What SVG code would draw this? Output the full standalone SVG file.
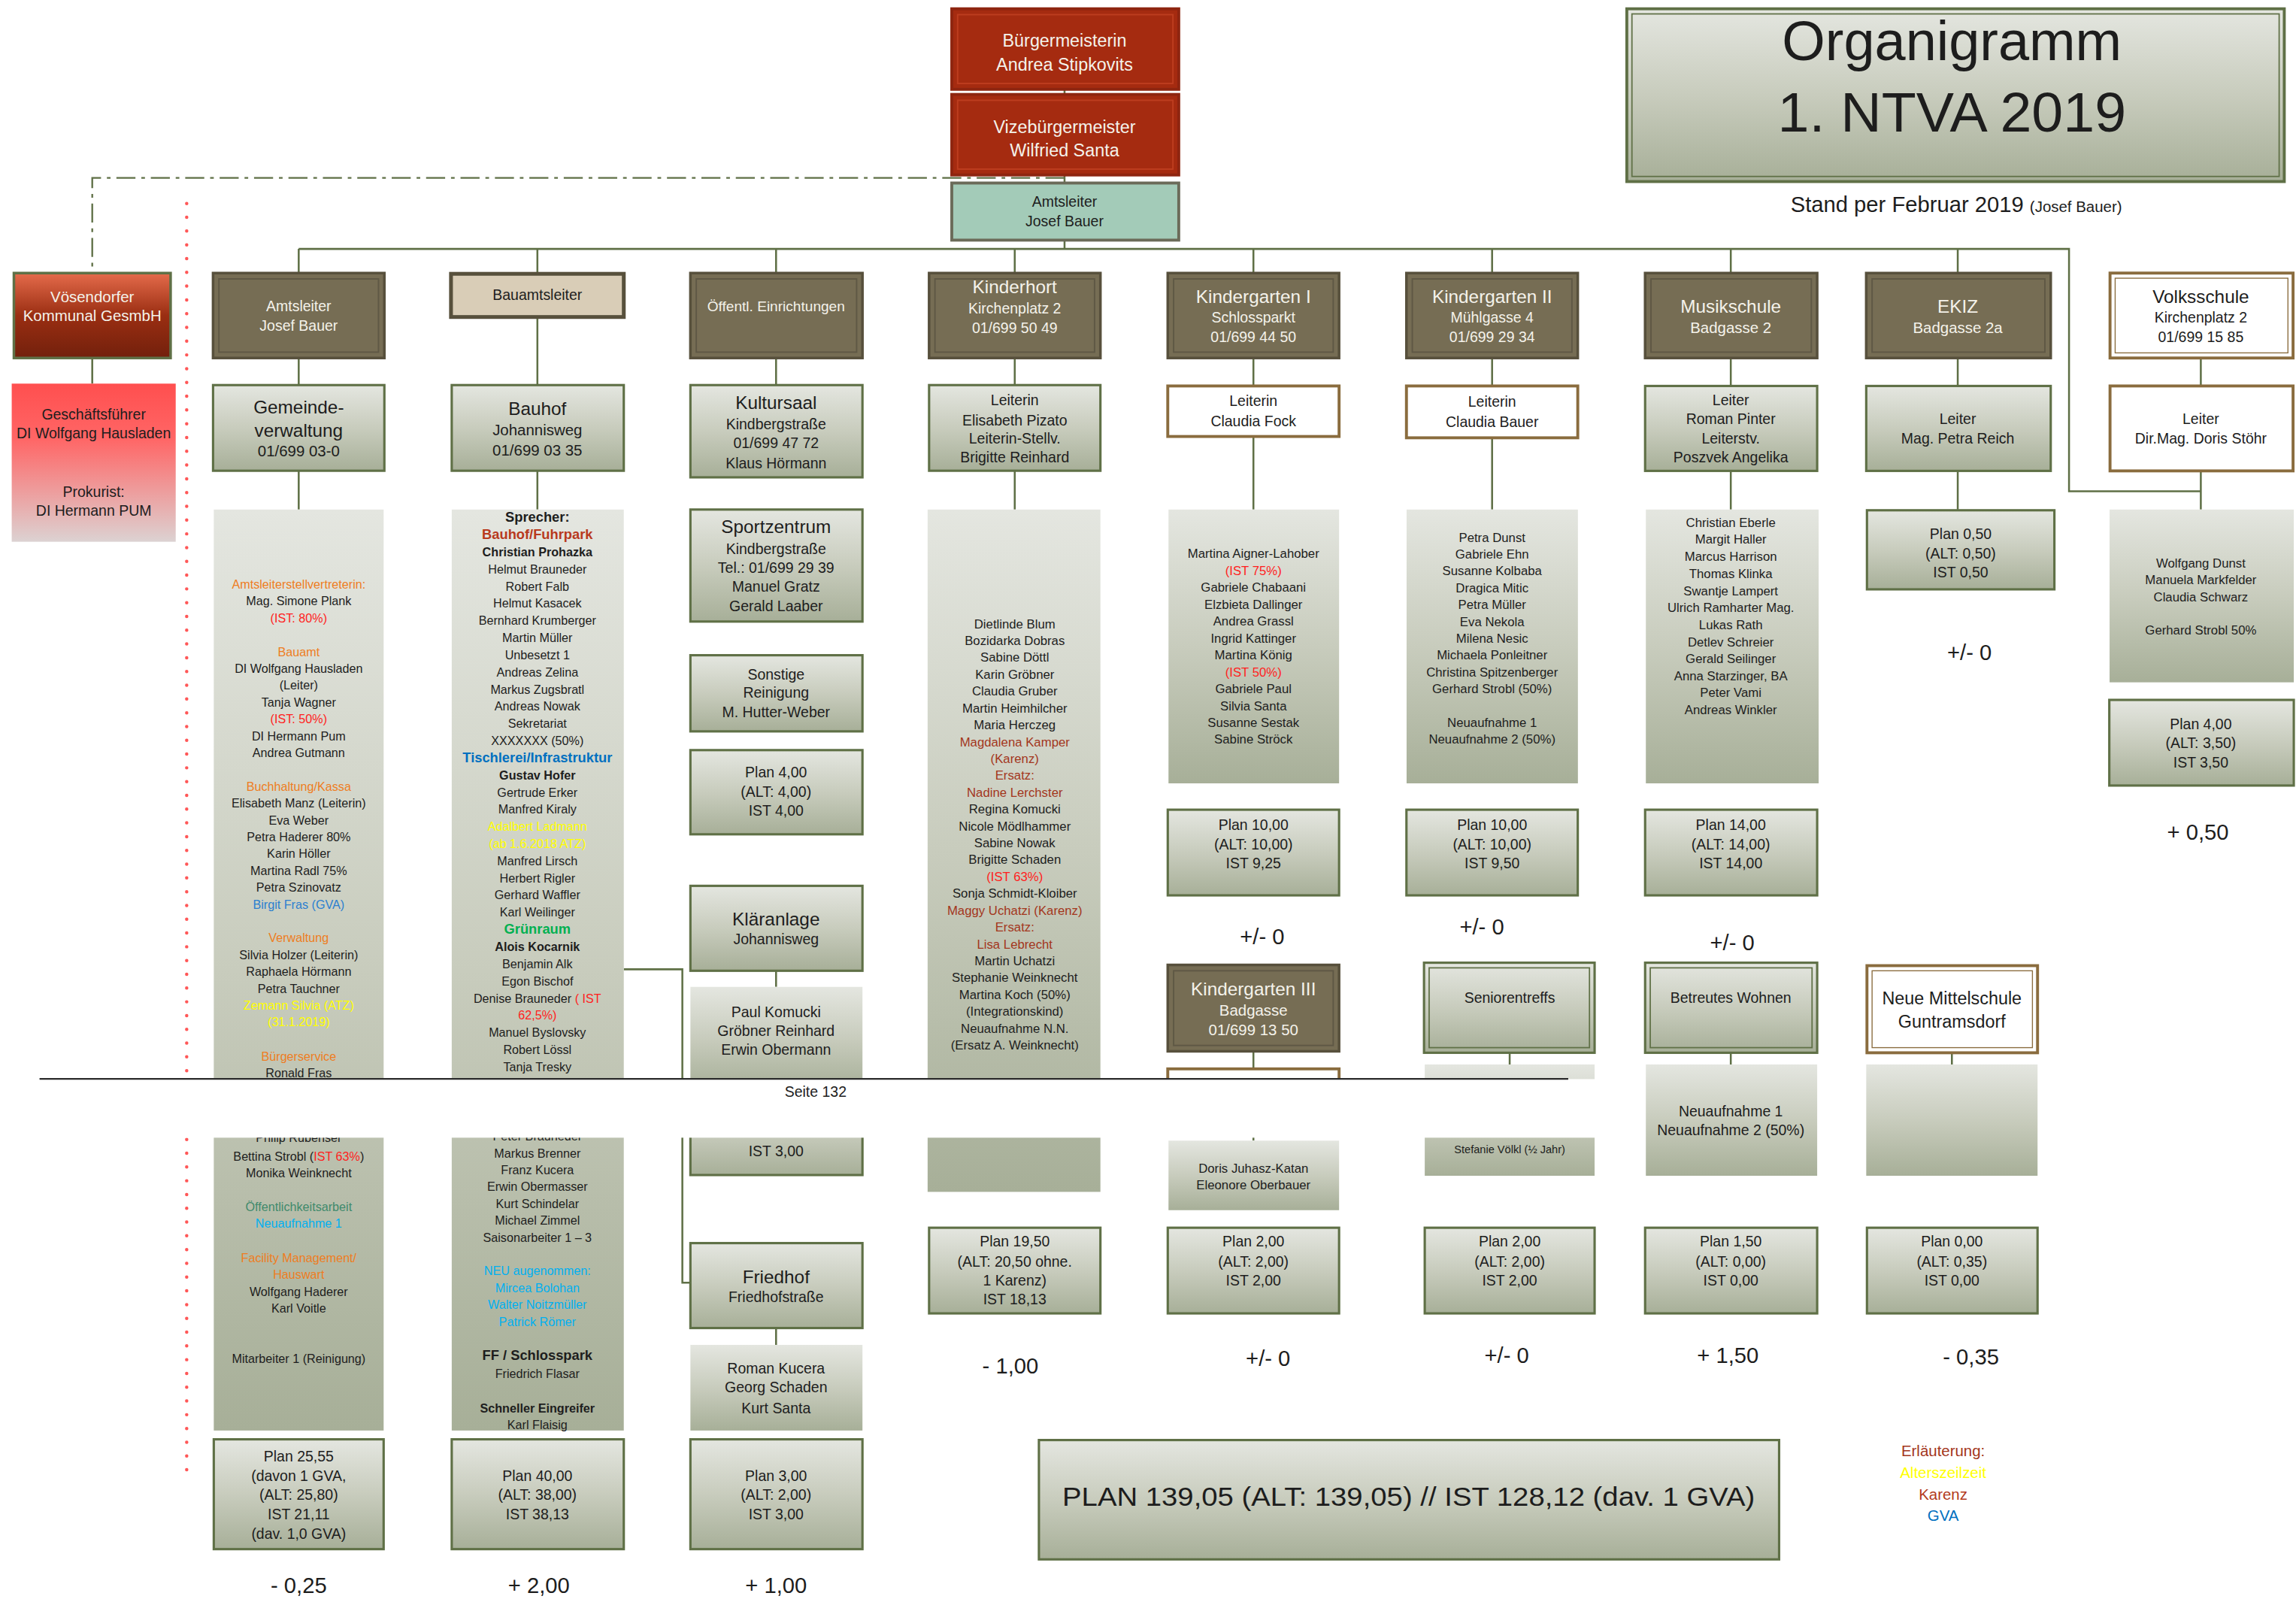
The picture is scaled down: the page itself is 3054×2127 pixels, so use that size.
<svg xmlns="http://www.w3.org/2000/svg" width="3054" height="2127" viewBox="0 0 3054 2127">
<defs>
<linearGradient id="gL" x1="0" y1="0" x2="0" y2="1"><stop offset="0" stop-color="#e4e6e0"/><stop offset="0.5" stop-color="#c8ccbd"/><stop offset="1" stop-color="#a7af98"/></linearGradient>
<linearGradient id="gV" x1="0" y1="0" x2="0" y2="1"><stop offset="0" stop-color="#e56b4b"/><stop offset="0.5" stop-color="#9a2e12"/><stop offset="1" stop-color="#72200c"/></linearGradient>
<linearGradient id="gG" x1="0" y1="0" x2="0" y2="1"><stop offset="0" stop-color="#ff4f4f"/><stop offset="0.35" stop-color="#f66"/><stop offset="1" stop-color="#dcd2d2"/></linearGradient>
<style>
.c{fill:none;stroke:#5f7046;stroke-width:1.3}
.dd{fill:none;stroke:#5f7046;stroke-width:1.2;stroke-dasharray:13 4 2.5 4}
.rdot{fill:none;stroke:#ff5757;stroke-width:2.3;stroke-linecap:round;stroke-dasharray:0 9.4}
.hdr{fill:#766d54;stroke:#57503c;stroke-width:1.8}
.hin{fill:none;stroke:#5f5845;stroke-width:1}
.lg{fill:url(#gL);stroke:#5f7046;stroke-width:1.6}
.lgi{fill:none;stroke:#5f7046;stroke-width:0.9}
.nb{fill:url(#gL)}
.wb{fill:#fff;stroke:#8a6c3e;stroke-width:2}
.wbi{fill:none;stroke:#8a6c3e;stroke-width:0.7}
.rb{fill:#a52b10;stroke:#8e2510;stroke-width:2}
.rbi{fill:none;stroke:#bd3d1f;stroke-width:1}
.t{font-family:"Liberation Sans",Arial,Helvetica,sans-serif;text-anchor:middle;fill:#1d1d1d}
.t.w{fill:#f4f2ea}
.s7{font-size:7.5px}
.s8{font-size:8.3px}
.s86{font-size:8.6px}
.s9{font-size:9.4px}
.s10{font-size:10px}
.s105{font-size:10.5px}
.s12{font-size:12.5px}
.s15{font-size:15px}
.b{font-weight:bold}
.t .or,.t.or,.or{fill:#ee7d22}
.t .rd,.t.rd,.rd{fill:#ff1e1e}
.t .yl,.t.yl,.yl{fill:#ffff00}
.t .bl,.t.bl,.bl{fill:#2b7fd0}
.t .bu,.t.bu,.bu{fill:#0070c0}
.t .cy,.t.cy,.cy{fill:#00b0f0}
.t .br,.t.br,.br{fill:#a3361c}
.t .bf,.t.bf,.bf{fill:#b8391d}
.t .kz,.t.kz,.kz{fill:#b33a1c}
.t .gr,.t.gr,.gr{fill:#00b050}
.t .tl,.t.tl,.tl{fill:#3f8a6c}
</style>
</defs>
<rect width="3054" height="2127" fill="#fff"/>
<g transform="scale(1.9477)">

<g id="connectors">
<path class="c" d="M727,61V64M727,120V125M727,164V170"/>
<path class="c" d="M204,170H1413V335.5H1503"/>
<path class="c" d="M204,170V186M367,170V186M530,170V186M693,170V186M856,170V186M1019,170V186M1182,170V186M1337,170V186"/>
<path class="c" d="M204,245V263M367,216.5V263M530,245V263M693,245V263M856,245V263.6M1019,245V263M1182,245V263M1337,245V263M1503,245V263"/>
<path class="c" d="M204,321.5V348M367,321.5V348M693,321.5V348M856,298V348M1019,299V348M1182,322V348M1337,322V348M1503,322V348"/>
<path class="c" d="M63,245V262"/>
<path class="c" d="M426,662H466V876H471"/>
<path class="c" d="M530,663V674M530,907V918.5M856,718V730M856,770V779M1031,719V727M1182,719V727M1333,719V727"/>
<path class="dd" d="M727,121.5H63V186"/>
<path class="rdot" d="M127.5,139V1012"/>
</g>

<g id="buergermeisterin">
<rect class="rb" x="650" y="6" width="155" height="55"/><rect class="rbi" x="654" y="10" width="147" height="47"/>
<text class="t w" font-size="12" x="727" y="32">Bürgermeisterin</text>
<text class="t w" font-size="12" x="727" y="48.5">Andrea Stipkovits</text>
</g>
<g id="vizebuergermeister">
<rect class="rb" x="650" y="64.5" width="155" height="55"/><rect class="rbi" x="654" y="68.5" width="147" height="47"/>
<text class="t w" font-size="12" x="727" y="90.7">Vizebürgermeister</text>
<text class="t w" font-size="12" x="727" y="107">Wilfried Santa</text>
</g>
<g id="amtsleiter-top">
<rect x="650" y="125" width="155" height="39" fill="#a3cbb8" stroke="#6b6b59" stroke-width="2"/>
<text class="t s10" x="727" y="141">Amtsleiter</text>
<text class="t s10" x="727" y="154.5">Josef Bauer</text>
</g>
<g id="title">
<rect x="1111" y="6" width="449" height="118" fill="url(#gL)" stroke="#5f7046" stroke-width="2"/>
<rect class="lgi" x="1114.5" y="9.5" width="442" height="111"/>
<text class="t" font-size="38" x="1333" y="41" textLength="232" lengthAdjust="spacingAndGlyphs">Organigramm</text>
<text class="t" font-size="38" x="1333" y="89.7" textLength="238" lengthAdjust="spacingAndGlyphs">1. NTVA 2019</text>
<text class="t" font-size="15" x="1336" y="145">Stand per Februar 2019 <tspan font-size="10.5">(Josef Bauer)</tspan></text>
</g>

<g id="voesendorfer">
<rect x="9.5" y="186.5" width="107" height="58" fill="url(#gV)" stroke="#5f7046" stroke-width="1.8"/>
<text class="t w s105" x="63" y="206.5">Vösendorfer</text>
<text class="t w s105" x="63" y="219">Kommunal GesmbH</text>
</g>
<g id="geschaeftsfuehrer">
<rect x="8" y="262" width="112" height="108" fill="url(#gG)"/>
<text class="t s10" x="64" y="286.5">Geschäftsführer</text>
<text class="t s10" x="64" y="299.5">DI Wolfgang Hausladen</text>
<text class="t s10" x="64" y="339.5">Prokurist:</text>
<text class="t s10" x="64" y="352">DI Hermann PUM</text>
</g>

<!-- Column 1 -->
<g id="col1-header">
<rect class="hdr" x="145.5" y="186.5" width="117" height="58"/><rect class="hin" x="149.5" y="190.5" width="109" height="50"/>
<text class="t w s10" x="204" y="212.5">Amtsleiter</text>
<text class="t w s10" x="204" y="226">Josef Bauer</text>
</g>
<g id="gemeindeverwaltung">
<rect class="lg" x="145.5" y="263" width="117" height="58.5"/>
<text class="t s12" x="204" y="282.5">Gemeinde-</text>
<text class="t s12" x="204" y="298.5">verwaltung</text>
<text class="t s105" x="204" y="311.8">01/699 03-0</text>
</g>
<g id="col1-staff">
<rect class="nb" x="146" y="348" width="116" height="629"/>
<g class="t s8">
<text class="or" x="204" y="402">Amtsleiterstellvertreterin:</text>
<text x="204" y="413.5">Mag. Simone Plank</text>
<text class="rd" x="204" y="425">(IST: 80%)</text>
<text class="or" x="204" y="448">Bauamt</text>
<text x="204" y="459.5">DI Wolfgang Hausladen</text>
<text x="204" y="471">(Leiter)</text>
<text x="204" y="482.5">Tanja Wagner</text>
<text class="rd" x="204" y="494">(IST: 50%)</text>
<text x="204" y="505.5">DI Hermann Pum</text>
<text x="204" y="517">Andrea Gutmann</text>
<text class="or" x="204" y="540">Buchhaltung/Kassa</text>
<text x="204" y="551.5">Elisabeth Manz (Leiterin)</text>
<text x="204" y="563">Eva Weber</text>
<text x="204" y="574.5">Petra Haderer 80%</text>
<text x="204" y="586">Karin Höller</text>
<text x="204" y="597.5">Martina Radl 75%</text>
<text x="204" y="609">Petra Szinovatz</text>
<text class="bl" x="204" y="620.5">Birgit Fras (GVA)</text>
<text class="or" x="204" y="643.5">Verwaltung</text>
<text x="204" y="655">Silvia Holzer (Leiterin)</text>
<text x="204" y="666.5">Raphaela Hörmann</text>
<text x="204" y="678">Petra Tauchner</text>
<text class="yl" x="204" y="689.5">Zemann Silvia (ATZ)</text>
<text class="yl" x="204" y="701">(31.1.2019)</text>
<text class="or" x="204" y="724.5">Bürgerservice</text>
<text x="204" y="735.5">Ronald Fras</text>
<text x="204" y="780">Philip Rubenser</text>
<text x="204" y="792.5">Bettina Strobl (<tspan class="rd">IST 63%</tspan>)</text>
<text x="204" y="804">Monika Weinknecht</text>
<text class="tl" x="204" y="827">Öffentlichkeitsarbeit</text>
<text class="cy" x="204" y="838.5">Neuaufnahme 1</text>
<text class="or" x="204" y="862">Facility Management/</text>
<text class="or" x="204" y="873.5">Hauswart</text>
<text x="204" y="885">Wolfgang Haderer</text>
<text x="204" y="896.5">Karl Voitle</text>
<text x="204" y="931">Mitarbeiter 1 (Reinigung)</text>
</g>
</g>
<g id="col1-plan">
<rect class="lg" x="146" y="983" width="116" height="75"/>
<g class="t s10">
<text x="204" y="998">Plan  25,55</text>
<text x="204" y="1011.5">(davon 1 GVA,</text>
<text x="204" y="1024.5">(ALT: 25,80)</text>
<text x="204" y="1037.5">IST 21,11</text>
<text x="204" y="1051">(dav. 1,0 GVA)</text>
</g>
<text class="t s15" x="204" y="1088">- 0,25</text>
</g>

<!-- Column 2 -->
<g id="bauamtsleiter">
<rect x="308" y="187" width="118" height="29.5" fill="#d9cdb7" stroke="#57503c" stroke-width="2.6"/>
<text class="t s10" x="367" y="205">Bauamtsleiter</text>
</g>
<g id="bauhof">
<rect class="lg" x="308.5" y="263" width="117.5" height="58.5"/>
<text class="t s12" x="367" y="283.5">Bauhof</text>
<text class="t s105" x="367" y="297.5">Johannisweg</text>
<text class="t s105" x="367" y="311">01/699 03 35</text>
</g>
<g id="col2-staff">
<rect class="nb" x="308.5" y="348" width="117.5" height="629"/>
<g class="t s8">
<text class="b s9" x="367" y="356.5">Sprecher:</text>
<text class="b s9 bf" x="367" y="368.2">Bauhof/Fuhrpark</text>
<text class="b" x="367" y="379.9">Christian Prohazka</text>
<text x="367" y="391.7">Helmut Brauneder</text>
<text x="367" y="403.4">Robert Falb</text>
<text x="367" y="415.1">Helmut Kasacek</text>
<text x="367" y="426.8">Bernhard Krumberger</text>
<text x="367" y="438.5">Martin Müller</text>
<text x="367" y="450.3">Unbesetzt 1</text>
<text x="367" y="462">Andreas Zelina</text>
<text x="367" y="473.7">Markus Zugsbratl</text>
<text x="367" y="485.4">Andreas Nowak</text>
<text x="367" y="497.1">Sekretariat</text>
<text x="367" y="508.9">XXXXXXX (50%)</text>
<text class="b s9 bu" x="367" y="520.6">Tischlerei/Infrastruktur</text>
<text class="b" x="367" y="532.3">Gustav Hofer</text>
<text x="367" y="544">Gertrude Erker</text>
<text x="367" y="555.7">Manfred Kiraly</text>
<text class="yl" x="367" y="567.5">Adalbert Ladmann</text>
<text class="yl" x="367" y="579.2">(ab 1.6.2018 ATZ)</text>
<text x="367" y="590.9">Manfred Lirsch</text>
<text x="367" y="602.6">Herbert Rigler</text>
<text x="367" y="614.3">Gerhard Waffler</text>
<text x="367" y="626.1">Karl Weilinger</text>
<text class="b s9 gr" x="367" y="637.8">Grünraum</text>
<text class="b" x="367" y="649.5">Alois Kocarnik</text>
<text x="367" y="661.2">Benjamin Alk</text>
<text x="367" y="672.9">Egon Bischof</text>
<text x="367" y="684.7">Denise Brauneder <tspan class="rd">( IST</tspan></text>
<text class="rd" x="367" y="696.4">62,5%)</text>
<text x="367" y="708.1">Manuel Byslovsky</text>
<text x="367" y="719.8">Robert Lössl</text>
<text x="367" y="731.5">Tanja Tresky</text>
<text x="367" y="779">Peter Brauneder</text>
<text x="367" y="790.5">Markus Brenner</text>
<text x="367" y="802">Franz Kucera</text>
<text x="367" y="813.5">Erwin Obermasser</text>
<text x="367" y="825">Kurt Schindelar</text>
<text x="367" y="836.5">Michael Zimmel</text>
<text x="367" y="848">Saisonarbeiter 1 – 3</text>
<text class="cy" x="367" y="871">NEU augenommen:</text>
<text class="cy" x="367" y="882.5">Mircea Bolohan</text>
<text class="cy" x="367" y="894">Walter Noitzmüller</text>
<text class="cy" x="367" y="905.5">Patrick Römer</text>
<text class="b s9" x="367" y="929">FF / Schlosspark</text>
<text x="367" y="941">Friedrich Flasar</text>
<text class="b" x="367" y="964.5">Schneller Eingreifer</text>
<text x="367" y="976">Karl Flaisig</text>
</g>
</g>
<g id="col2-plan">
<rect class="lg" x="308.5" y="983" width="117.5" height="75"/>
<g class="t s10">
<text x="367" y="1011.5">Plan 40,00</text>
<text x="367" y="1024.5">(ALT: 38,00)</text>
<text x="367" y="1037.5">IST 38,13</text>
</g>
<text class="t s15" x="368" y="1088">+ 2,00</text>
</g>

<!-- Column 3 -->
<g id="col3-header">
<rect class="hdr" x="471.5" y="186.5" width="117.5" height="58"/><rect class="hin" x="475.5" y="190.5" width="109.5" height="50"/>
<text class="t w" font-size="9.8" x="530" y="212.5">Öffentl. Einrichtungen</text>
</g>
<g id="kultursaal">
<rect class="lg" x="471.5" y="263" width="117.5" height="63"/>
<text class="t s12" x="530" y="279.5">Kultursaal</text>
<text class="t s10" x="530" y="293.2">Kindbergstraße</text>
<text class="t s10" x="530" y="306.2">01/699 47 72</text>
<text class="t s10" x="530" y="320">Klaus Hörmann</text>
</g>
<g id="sportzentrum">
<rect class="lg" x="471.5" y="348" width="117.5" height="76.5"/>
<text class="t s12" x="530" y="364">Sportzentrum</text>
<text class="t s10" x="530" y="378.4">Kindbergstraße</text>
<text class="t s10" x="530" y="391.3">Tel.: 01/699 29 39</text>
<text class="t s10" x="530" y="404.3">Manuel Gratz</text>
<text class="t s10" x="530" y="417.2">Gerald Laaber</text>
</g>
<g id="sonstige">
<rect class="lg" x="471.5" y="447.5" width="117.5" height="52"/>
<text class="t s10" x="530" y="464">Sonstige</text>
<text class="t s10" x="530" y="476.5">Reinigung</text>
<text class="t s10" x="530" y="490">M. Hutter-Weber</text>
</g>
<g id="col3-plan1">
<rect class="lg" x="471.5" y="512.3" width="117.5" height="57.5"/>
<text class="t s10" x="530" y="531">Plan 4,00</text>
<text class="t s10" x="530" y="544">(ALT: 4,00)</text>
<text class="t s10" x="530" y="557">IST 4,00</text>
</g>
<g id="klaeranlage">
<rect class="lg" x="471.5" y="605" width="117.5" height="58"/>
<text class="t s12" x="530" y="632">Kläranlage</text>
<text class="t s10" x="530" y="645">Johannisweg</text>
</g>
<g id="klaeranlage-staff">
<rect class="nb" x="471.5" y="674" width="117.5" height="70"/>
<text class="t s10" x="530" y="694.5">Paul Komucki</text>
<text class="t s10" x="530" y="707.7">Gröbner Reinhard</text>
<text class="t s10" x="530" y="720.4">Erwin Obermann</text>
</g>
<g id="klaeranlage-plan">
<rect class="lg" x="471.5" y="745" width="117.5" height="57.5"/>
<text class="t s10" x="530" y="789.5">IST 3,00</text>
</g>
<g id="friedhof">
<rect class="lg" x="471.5" y="849" width="117.5" height="58"/>
<text class="t s12" x="530" y="876.3">Friedhof</text>
<text class="t s10" x="530" y="889.2">Friedhofstraße</text>
</g>
<g id="friedhof-staff">
<rect class="nb" x="471.5" y="918.5" width="117.5" height="58.5"/>
<text class="t s10" x="530" y="938">Roman Kucera</text>
<text class="t s10" x="530" y="951.1">Georg Schaden</text>
<text class="t s10" x="530" y="965.3">Kurt Santa</text>
</g>
<g id="col3-plan2">
<rect class="lg" x="471.5" y="983" width="117.5" height="75"/>
<text class="t s10" x="530" y="1011.5">Plan 3,00</text>
<text class="t s10" x="530" y="1024.5">(ALT: 2,00)</text>
<text class="t s10" x="530" y="1037.5">IST 3,00</text>
<text class="t s15" x="530" y="1088">+ 1,00</text>
</g>

<!-- Column 4 -->
<g id="kinderhort">
<rect class="hdr" x="634.5" y="186.5" width="117" height="58"/><rect class="hin" x="638.5" y="190.5" width="109" height="50"/>
<text class="t w s12" x="693" y="200.5">Kinderhort</text>
<text class="t w s10" x="693" y="214.3">Kirchenplatz 2</text>
<text class="t w s10" x="693" y="227.3">01/699 50 49</text>
</g>
<g id="kinderhort-leitung">
<rect class="lg" x="634.5" y="263" width="117" height="58.5"/>
<text class="t s10" x="693" y="276.5">Leiterin</text>
<text class="t s10" x="693" y="290.5">Elisabeth Pizato</text>
<text class="t s10" x="693" y="302.8">Leiterin-Stellv.</text>
<text class="t s10" x="693" y="316">Brigitte Reinhard</text>
</g>
<g id="kinderhort-staff">
<rect class="nb" x="633.5" y="348" width="118" height="466"/>
<g class="t s86">
<text x="693" y="429">Dietlinde Blum</text>
<text x="693" y="440.5">Bozidarka Dobras</text>
<text x="693" y="452">Sabine Döttl</text>
<text x="693" y="463.5">Karin Gröbner</text>
<text x="693" y="475">Claudia Gruber</text>
<text x="693" y="486.6">Martin Heimhilcher</text>
<text x="693" y="498.1">Maria Herczeg</text>
<text class="br" x="693" y="509.6">Magdalena Kamper</text>
<text class="br" x="693" y="521.1">(Karenz)</text>
<text class="br" x="693" y="532.6">Ersatz:</text>
<text class="br" x="693" y="544.1">Nadine Lerchster</text>
<text x="693" y="555.6">Regina Komucki</text>
<text x="693" y="567.1">Nicole Mödlhammer</text>
<text x="693" y="578.6">Sabine Nowak</text>
<text x="693" y="590.1">Brigitte Schaden</text>
<text class="rd" x="693" y="601.7">(IST 63%)</text>
<text x="693" y="613.2">Sonja Schmidt-Kloiber</text>
<text class="br" x="693" y="624.7">Maggy Uchatzi (Karenz)</text>
<text class="br" x="693" y="636.2">Ersatz:</text>
<text class="br" x="693" y="647.7">Lisa Lebrecht</text>
<text x="693" y="659.2">Martin Uchatzi</text>
<text x="693" y="670.7">Stephanie Weinknecht</text>
<text x="693" y="682.2">Martina Koch (50%)</text>
<text x="693" y="693.7">(Integrationskind)</text>
<text x="693" y="705.2">Neuaufnahme N.N.</text>
<text x="693" y="716.8">(Ersatz A. Weinknecht)</text>
</g>
</g>
<g id="kinderhort-plan">
<rect class="lg" x="634.5" y="838.5" width="117" height="58.5"/>
<text class="t s10" x="693" y="851.5">Plan 19,50</text>
<text class="t s10" x="693" y="865">(ALT: 20,50 ohne.</text>
<text class="t s10" x="693" y="878">1 Karenz)</text>
<text class="t s10" x="693" y="891">IST 18,13</text>
<text class="t s15" x="690" y="938">- 1,00</text>
</g>

<!-- Column 5 -->
<g id="kindergarten1">
<rect class="hdr" x="797.5" y="186.5" width="117" height="58"/><rect class="hin" x="801.5" y="190.5" width="109" height="50"/>
<text class="t w s12" x="856" y="207">Kindergarten I</text>
<text class="t w s10" x="856" y="220.5">Schlossparkt</text>
<text class="t w s10" x="856" y="233.5">01/699 44 50</text>
</g>
<g id="kindergarten1-leitung">
<rect class="wb" x="797.5" y="263.6" width="117" height="34.5"/>
<text class="t s10" x="856" y="277.5">Leiterin</text>
<text class="t s10" x="856" y="291">Claudia Fock</text>
</g>
<g id="kindergarten1-staff">
<rect class="nb" x="798" y="348" width="116.5" height="187"/>
<g class="t s86">
<text x="856" y="381.2">Martina Aigner-Lahober</text>
<text class="rd" x="856" y="392.7">(IST 75%)</text>
<text x="856" y="404.3">Gabriele Chabaani</text>
<text x="856" y="415.8">Elzbieta Dallinger</text>
<text x="856" y="427.3">Andrea Grassl</text>
<text x="856" y="438.9">Ingrid Kattinger</text>
<text x="856" y="450.4">Martina König</text>
<text class="rd" x="856" y="461.9">(IST 50%)</text>
<text x="856" y="473.4">Gabriele Paul</text>
<text x="856" y="485">Silvia Santa</text>
<text x="856" y="496.5">Susanne Sestak</text>
<text x="856" y="508">Sabine Ströck</text>
</g>
</g>
<g id="kindergarten1-plan">
<rect class="lg" x="797.5" y="553" width="117" height="58.5"/>
<text class="t s10" x="856" y="567">Plan 10,00</text>
<text class="t s10" x="856" y="580">(ALT: 10,00)</text>
<text class="t s10" x="856" y="593">IST 9,25</text>
<text class="t s15" x="862" y="645">+/- 0</text>
</g>
<g id="kindergarten3">
<rect class="hdr" x="797.5" y="659" width="117" height="59"/><rect class="hin" x="801.5" y="663" width="109" height="51"/>
<text class="t w s12" x="856" y="679.8">Kindergarten III</text>
<text class="t w s105" x="856" y="693.8">Badgasse</text>
<text class="t w s105" x="856" y="707">01/699 13 50</text>
</g>
<g id="kindergarten3-leitung">
<rect class="wb" x="797.5" y="730" width="117" height="40"/>
</g>
<g id="kindergarten3-staff">
<rect class="nb" x="798" y="779" width="116.5" height="47.5"/>
<text class="t s86" x="856" y="801">Doris Juhasz-Katan</text>
<text class="t s86" x="856" y="812.5">Eleonore Oberbauer</text>
</g>
<g id="kindergarten3-plan">
<rect class="lg" x="797.5" y="838.5" width="117" height="58.5"/>
<text class="t s10" x="856" y="851.5">Plan 2,00</text>
<text class="t s10" x="856" y="865">(ALT: 2,00)</text>
<text class="t s10" x="856" y="878">IST 2,00</text>
<text class="t s15" x="866" y="933">+/- 0</text>
</g>

<!-- Column 6 -->
<g id="kindergarten2">
<rect class="hdr" x="960.5" y="186.5" width="117" height="58"/><rect class="hin" x="964.5" y="190.5" width="109" height="50"/>
<text class="t w s12" x="1019" y="207">Kindergarten II</text>
<text class="t w s10" x="1019" y="220.5">Mühlgasse 4</text>
<text class="t w s10" x="1019" y="233.5">01/699 29 34</text>
</g>
<g id="kindergarten2-leitung">
<rect class="wb" x="960.5" y="263.6" width="117" height="35.4"/>
<text class="t s10" x="1019" y="278">Leiterin</text>
<text class="t s10" x="1019" y="291.5">Claudia Bauer</text>
</g>
<g id="kindergarten2-staff">
<rect class="nb" x="960.6" y="348" width="117" height="187"/>
<g class="t s86">
<text x="1019" y="370">Petra Dunst</text>
<text x="1019" y="381.5">Gabriele Ehn</text>
<text x="1019" y="393">Susanne Kolbaba</text>
<text x="1019" y="404.5">Dragica Mitic</text>
<text x="1019" y="416">Petra Müller</text>
<text x="1019" y="427.5">Eva Nekola</text>
<text x="1019" y="439">Milena Nesic</text>
<text x="1019" y="450.5">Michaela Ponleitner</text>
<text x="1019" y="462">Christina Spitzenberger</text>
<text x="1019" y="473.5">Gerhard Strobl (50%)</text>
<text x="1019" y="496.5">Neuaufnahme 1</text>
<text x="1019" y="508">Neuaufnahme 2 (50%)</text>
</g>
</g>
<g id="kindergarten2-plan">
<rect class="lg" x="960.5" y="553" width="117" height="58.5"/>
<text class="t s10" x="1019" y="567">Plan 10,00</text>
<text class="t s10" x="1019" y="580">(ALT: 10,00)</text>
<text class="t s10" x="1019" y="593">IST 9,50</text>
<text class="t s15" x="1012" y="638">+/- 0</text>
</g>
<g id="seniorentreffs">
<rect class="lg" x="972.5" y="657.5" width="116.5" height="61.5"/><rect class="lgi" x="976" y="661" width="109.5" height="54.5"/>
<text class="t s10" x="1031" y="685">Seniorentreffs</text>
</g>
<g id="seniorentreffs-staff">
<rect class="nb" x="973" y="727" width="116" height="76"/>
<text class="t s7" x="1031" y="787.5">Stefanie Völkl (½ Jahr)</text>
</g>
<g id="seniorentreffs-plan">
<rect class="lg" x="973" y="838.5" width="116" height="58.5"/>
<text class="t s10" x="1031" y="851.5">Plan 2,00</text>
<text class="t s10" x="1031" y="865">(ALT: 2,00)</text>
<text class="t s10" x="1031" y="878">IST 2,00</text>
<text class="t s15" x="1029" y="931">+/- 0</text>
</g>

<!-- Column 7 -->
<g id="musikschule">
<rect class="hdr" x="1123.5" y="186.5" width="117.5" height="58"/><rect class="hin" x="1127.5" y="190.5" width="109.5" height="50"/>
<text class="t w s12" x="1182" y="213.5">Musikschule</text>
<text class="t w s105" x="1182" y="227.3">Badgasse 2</text>
</g>
<g id="musikschule-leitung">
<rect class="lg" x="1123.5" y="263.6" width="117.5" height="58"/>
<text class="t s10" x="1182" y="276.5">Leiter</text>
<text class="t s10" x="1182" y="289.8">Roman Pinter</text>
<text class="t s10" x="1182" y="302.8">Leiterstv.</text>
<text class="t s10" x="1182" y="316">Poszvek Angelika</text>
</g>
<g id="musikschule-staff">
<rect class="nb" x="1124" y="348" width="118" height="187"/>
<g class="t s86">
<text x="1182" y="359.8">Christian Eberle</text>
<text x="1182" y="371.4">Margit Haller</text>
<text x="1182" y="383.1">Marcus Harrison</text>
<text x="1182" y="394.7">Thomas Klinka</text>
<text x="1182" y="406.4">Swantje Lampert</text>
<text x="1182" y="418">Ulrich Ramharter Mag.</text>
<text x="1182" y="429.6">Lukas Rath</text>
<text x="1182" y="441.3">Detlev Schreier</text>
<text x="1182" y="452.9">Gerald Seilinger</text>
<text x="1182" y="464.6">Anna Starzinger, BA</text>
<text x="1182" y="476.2">Peter Vami</text>
<text x="1182" y="487.8">Andreas Winkler</text>
</g>
</g>
<g id="musikschule-plan">
<rect class="lg" x="1123.5" y="553" width="117.5" height="58.5"/>
<text class="t s10" x="1182" y="567">Plan 14,00</text>
<text class="t s10" x="1182" y="580">(ALT: 14,00)</text>
<text class="t s10" x="1182" y="593">IST 14,00</text>
<text class="t s15" x="1183" y="649">+/- 0</text>
</g>
<g id="betreutes-wohnen">
<rect class="lg" x="1123.5" y="657.5" width="117.5" height="61.5"/><rect class="lgi" x="1127" y="661" width="110.5" height="54.5"/>
<text class="t s10" x="1182" y="685">Betreutes Wohnen</text>
</g>
<g id="betreutes-wohnen-staff">
<rect class="nb" x="1124" y="727" width="117" height="76"/>
<text class="t s10" x="1182" y="762.2">Neuaufnahme 1</text>
<text class="t s10" x="1182" y="775.2">Neuaufnahme 2 (50%)</text>
</g>
<g id="betreutes-wohnen-plan">
<rect class="lg" x="1123.5" y="838.5" width="117.5" height="58.5"/>
<text class="t s10" x="1182" y="851.5">Plan 1,50</text>
<text class="t s10" x="1182" y="865">(ALT: 0,00)</text>
<text class="t s10" x="1182" y="878">IST 0,00</text>
<text class="t s15" x="1180" y="931">+ 1,50</text>
</g>

<!-- Column 8 -->
<g id="ekiz">
<rect class="hdr" x="1274.5" y="186.5" width="126" height="58"/><rect class="hin" x="1278.5" y="190.5" width="118" height="50"/>
<text class="t w s12" x="1337" y="213.5">EKIZ</text>
<text class="t w s105" x="1337" y="227.3">Badgasse 2a</text>
</g>
<g id="ekiz-leitung">
<rect class="lg" x="1274.5" y="263.6" width="126" height="58"/>
<text class="t s10" x="1337" y="289.8">Leiter</text>
<text class="t s10" x="1337" y="302.8">Mag. Petra Reich</text>
</g>
<g id="ekiz-plan">
<rect class="lg" x="1275" y="348.5" width="128" height="54"/>
<text class="t s10" x="1339" y="368">Plan 0,50</text>
<text class="t s10" x="1339" y="381.5">(ALT: 0,50)</text>
<text class="t s10" x="1339" y="394.5">IST 0,50</text>
<text class="t s15" x="1345" y="451">+/- 0</text>
</g>
<g id="neue-mittelschule">
<rect class="wb" x="1275" y="659.5" width="116.5" height="59.5"/><rect class="wbi" x="1278.5" y="663" width="109.5" height="52.5"/>
<text class="t" font-size="12" x="1333" y="685.8">Neue Mittelschule</text>
<text class="t" font-size="12" x="1333" y="701.8">Guntramsdorf</text>
</g>
<g id="neue-mittelschule-staff">
<rect class="nb" x="1274.5" y="727" width="117" height="76"/>
</g>
<g id="neue-mittelschule-plan">
<rect class="lg" x="1275" y="838.5" width="116.5" height="58.5"/>
<text class="t s10" x="1333" y="851.5">Plan 0,00</text>
<text class="t s10" x="1333" y="865">(ALT: 0,35)</text>
<text class="t s10" x="1333" y="878">IST 0,00</text>
<text class="t s15" x="1346" y="932">- 0,35</text>
</g>

<!-- Column 9 -->
<g id="volksschule">
<rect class="wb" x="1441" y="186.5" width="125" height="58"/><rect class="wbi" x="1444.5" y="190" width="118" height="51"/>
<text class="t s12" x="1503" y="207">Volksschule</text>
<text class="t s10" x="1503" y="220.5">Kirchenplatz 2</text>
<text class="t s10" x="1503" y="233.5">01/699 15 85</text>
</g>
<g id="volksschule-leitung">
<rect class="wb" x="1441" y="263.6" width="125" height="58"/>
<text class="t s10" x="1503" y="289.8">Leiter</text>
<text class="t s10" x="1503" y="302.8">Dir.Mag. Doris  Stöhr</text>
</g>
<g id="volksschule-staff">
<rect class="nb" x="1440.7" y="348" width="125.8" height="118"/>
<text class="t s86" x="1503" y="387.6">Wolfgang Dunst</text>
<text class="t s86" x="1503" y="399">Manuela Markfelder</text>
<text class="t s86" x="1503" y="410.5">Claudia Schwarz</text>
<text class="t s86" x="1503" y="433.5">Gerhard Strobl 50%</text>
</g>
<g id="volksschule-plan">
<rect class="lg" x="1440.5" y="478" width="126" height="58.5"/>
<text class="t s10" x="1503" y="498">Plan 4,00</text>
<text class="t s10" x="1503" y="511">(ALT: 3,50)</text>
<text class="t s10" x="1503" y="524">IST 3,50</text>
<text class="t s15" x="1501" y="573.5">+ 0,50</text>
</g>

<!-- Totals and legend -->
<g id="gesamt">
<rect class="lg" x="709.5" y="983.5" width="505.5" height="81.5"/>
<text class="t" font-size="18" x="962" y="1028.5" textLength="473" lengthAdjust="spacingAndGlyphs">PLAN 139,05  (ALT: 139,05) // IST 128,12 (dav. 1 GVA)</text>
</g>
<g id="legende">
<text class="t s105 br" x="1327" y="994.5">Erläuterung:</text>
<text class="t s105 yl" x="1327" y="1009.5">Alterszeilzeit</text>
<text class="t s105 kz" x="1327" y="1024.5">Karenz</text>
<text class="t s105 bu" x="1327" y="1038.5">GVA</text>
</g>

<!-- page break -->
<rect x="0" y="737" width="1095" height="40" fill="#fff"/>
<line x1="27" y1="736.8" x2="1071" y2="736.8" stroke="#2a2a2a" stroke-width="1.1"/>
<text class="t s10" x="557" y="749">Seite 132</text>
</g>
</svg>
